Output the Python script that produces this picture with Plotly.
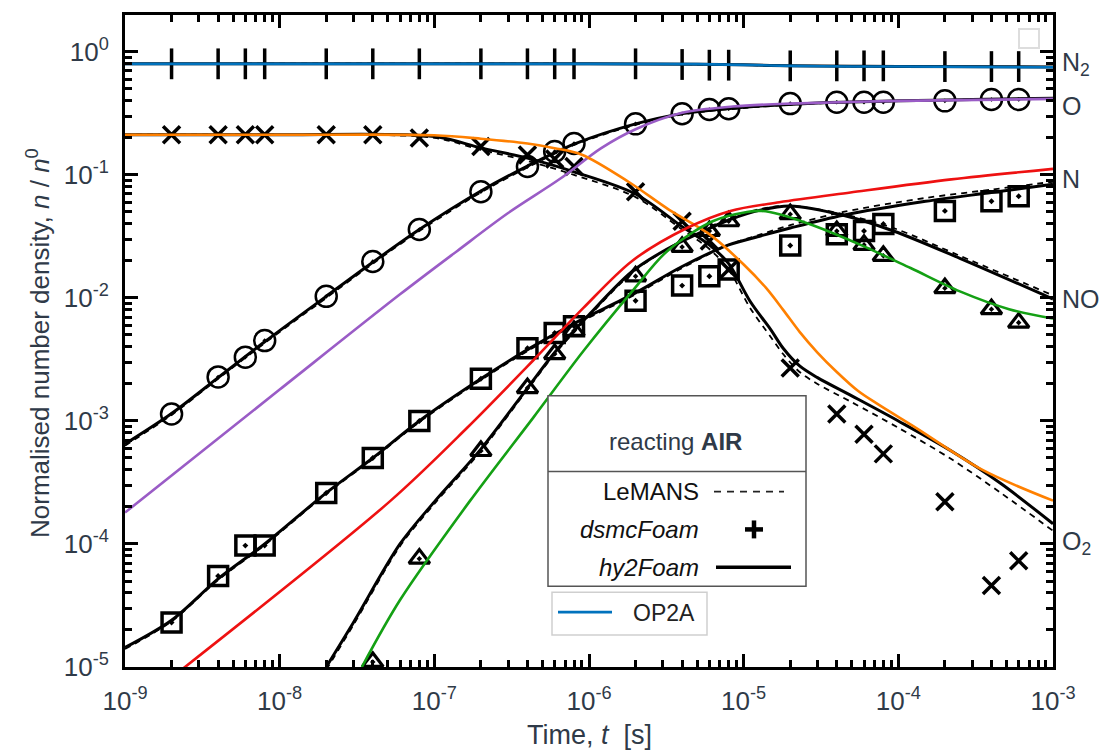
import plotly.graph_objects as go

# ---------------- data ----------------
# dsmcFoam sampling times [s]
T_dsmc = [2e-9, 4e-9, 6e-9, 8e-9, 2e-8, 4e-8, 8e-8, 2e-7, 4e-7, 6e-7, 8e-7,
          2e-6, 4e-6, 6e-6, 8e-6, 2e-5, 4e-5, 6e-5, 8e-5, 2e-4, 4e-4, 6e-4]
N2_dsmc = [0.80, 0.80, 0.80, 0.80, 0.80, 0.80, 0.80, 0.80, 0.80, 0.80, 0.80,
           0.80, 0.79, 0.78, 0.78, 0.77, 0.77, 0.77, 0.77, 0.76, 0.76, 0.76]
O_dsmc = [1.14e-3, 2.28e-3, 3.3e-3, 4.5e-3, 1.03e-2, 1.98e-2, 3.6e-2, 7.3e-2, 0.117, 0.155, 0.18,
          0.26, 0.314, 0.34, 0.345, 0.38, 0.39, 0.39, 0.39, 0.40, 0.41, 0.41]
O2_dsmc = [0.212, 0.212, 0.212, 0.212, 0.212, 0.212, 0.20, 0.17, 0.145, 0.135, 0.117,
           0.073, 0.042, 0.029, 0.017, 2.69e-3, 1.14e-3, 7.8e-4, 5.4e-4, 2.2e-4, 4.6e-5, 7.3e-5]
N_dsmc = [2.3e-5, 5.5e-5, 9.7e-5, 9.7e-5, 2.6e-4, 5.0e-4, 1.0e-3, 2.2e-3, 3.9e-3, 5.2e-3, 5.9e-3,
          9.5e-3, 0.0126, 0.015, 0.017, 0.0267, 0.033, 0.035, 0.040, 0.051, 0.061, 0.067]
NO_dsmc = [None, None, None, None, None, 1.1e-5, 7.6e-5, 5.7e-4, 1.85e-3, 3.5e-3, 5.4e-3,
           0.015, 0.026, 0.035, 0.042, 0.048, 0.035, 0.027, 0.022, 0.012, 8.1e-3, 6.3e-3]

# N2 lines
t_N2 = [1e-9, 1e-6, 5e-6, 1e-5, 2e-5, 5e-5, 1e-4, 1e-3]
N2_hy2 = [0.80, 0.80, 0.795, 0.785, 0.77, 0.765, 0.762, 0.755]
N2_lem = [0.80, 0.80, 0.793, 0.783, 0.77, 0.764, 0.76, 0.752]
N2_op2a = [0.80, 0.80, 0.795, 0.785, 0.77, 0.762, 0.76, 0.75]

# O lines
t_O = [1e-9, 2e-9, 4e-9, 8e-9, 2e-8, 4e-8, 8e-8, 2e-7, 4e-7, 8e-7, 2e-6, 4e-6, 1e-5, 3e-5, 1e-4, 3e-4, 1e-3]
O_hy2 = [6.5e-4, 1.15e-3, 2.25e-3, 4.4e-3, 1.03e-2, 1.95e-2, 3.6e-2, 7.4e-2, 0.118, 0.178, 0.26, 0.315,
         0.355, 0.385, 0.40, 0.41, 0.42]
O_lem = [6.3e-4, 1.12e-3, 2.2e-3, 4.3e-3, 1.0e-2, 1.9e-2, 3.5e-2, 7.2e-2, 0.115, 0.175, 0.255, 0.31,
         0.35, 0.382, 0.398, 0.41, 0.42]
t_O_op2a = [1e-9, 1e-8, 6e-8, 1.4e-7, 3e-7, 6.5e-7, 1.2e-6, 2e-6, 4e-6, 8.5e-6, 2e-5, 1e-4, 1e-3]
O_op2a = [1.8e-4, 1.8e-3, 1.07e-2, 0.024, 0.049, 0.093, 0.165, 0.235, 0.32, 0.36, 0.38, 0.40, 0.415]

# O2 lines
t_O2 = [1e-9, 1e-8, 1e-7, 2e-7, 4e-7, 8e-7, 2e-6, 4e-6, 6e-6, 8e-6, 1.1e-5, 1.5e-5, 1.8e-5, 2.3e-5,
        3e-5, 5e-5, 1e-4, 2.2e-4, 4.6e-4, 1e-3]
O2_hy2 = [0.212, 0.212, 0.205, 0.166, 0.137, 0.106, 0.07, 0.038, 0.027, 0.019, 9.4e-3, 5.5e-3, 3.9e-3,
          2.8e-3, 2.25e-3, 1.6e-3, 1.0e-3, 5.7e-4, 3.1e-4, 1.46e-4]
O2_lem = [0.212, 0.212, 0.20, 0.16, 0.13, 0.10, 0.066, 0.036, 0.025, 0.017, 8.3e-3, 4.8e-3, 3.5e-3,
          2.5e-3, 2.0e-3, 1.42e-3, 8.8e-4, 4.9e-4, 2.6e-4, 1.28e-4]
t_O2_op2a = [1e-9, 1e-8, 1e-7, 2e-7, 4e-7, 6e-7, 9e-7, 1.8e-6, 3.3e-6, 6e-6, 1e-5, 1.4e-5, 1.8e-5,
             2.3e-5, 3e-5, 4e-5, 5.5e-5, 7.5e-5, 1.3e-4, 3.5e-4, 1e-3]
O2_op2a = [0.212, 0.212, 0.21, 0.197, 0.18, 0.165, 0.146, 0.088, 0.052, 0.033, 0.0187, 0.012, 8.0e-3,
           5.3e-3, 3.6e-3, 2.5e-3, 1.75e-3, 1.35e-3, 8.8e-4, 4.0e-4, 2.25e-4]

# N lines
t_N = [1e-9, 2e-9, 4e-9, 8e-9, 2e-8, 4e-8, 8e-8, 2e-7, 4e-7, 8e-7, 2e-6, 4e-6, 8e-6, 1.3e-5, 2e-5,
       4.4e-5, 1.5e-4, 4e-4, 1e-3]
N_hy2 = [1.44e-5, 2.4e-5, 5.2e-5, 1.0e-4, 2.6e-4, 5.0e-4, 1.0e-3, 2.2e-3, 3.8e-3, 6.2e-3, 0.011, 0.018,
         0.027, 0.032, 0.037, 0.047, 0.061, 0.072, 0.084]
N_lem = [1.4e-5, 2.35e-5, 5.1e-5, 9.8e-5, 2.55e-4, 4.9e-4, 0.98e-3, 2.15e-3, 3.7e-3, 6.0e-3, 0.0107, 0.0175,
         0.027, 0.033, 0.039, 0.050, 0.065, 0.076, 0.088]
t_N_op2a = [2e-9, 5.2e-8, 1.63e-7, 4.35e-7, 9.2e-7, 1.9e-6, 4.3e-6, 8.2e-6, 1.7e-5, 4.9e-5, 2.2e-4, 1e-3]
N_op2a = [8.2e-6, 2.24e-4, 8.8e-4, 3.1e-3, 8.3e-3, 0.02, 0.037, 0.051, 0.06, 0.072, 0.092, 0.112]

# NO lines
t_NO = [2e-8, 3e-8, 6e-8, 1e-7, 2e-7, 4e-7, 6e-7, 1e-6, 1.9e-6, 3.2e-6, 5e-6, 8e-6, 1.3e-5, 2e-5,
        4.4e-5, 9.3e-5, 2.5e-4, 1e-3]
NO_hy2 = [1e-5, 2.3e-5, 1.0e-4, 2.2e-4, 5.9e-4, 1.85e-3, 3.6e-3, 7.3e-3, 0.0164, 0.025, 0.033, 0.043,
          0.052, 0.056, 0.047, 0.035, 0.021, 9.8e-3]
NO_lem = [9.5e-6, 2.2e-5, 0.96e-4, 2.12e-4, 5.7e-4, 1.8e-3, 3.5e-3, 7.1e-3, 0.016, 0.025, 0.034, 0.044,
          0.053, 0.056, 0.048, 0.037, 0.022, 0.0105]
t_NO_op2a = [3.4e-8, 6e-8, 1.7e-7, 4.35e-7, 9.2e-7, 1.9e-6, 3.2e-6, 6.3e-6, 1.05e-5, 1.3e-5,
             1.7e-5, 2.8e-5, 5.7e-5, 1.2e-4, 2.5e-4, 5.2e-4, 1e-3]
NO_op2a = [1e-5, 3.5e-5, 2.24e-4, 1.06e-3, 3.7e-3, 0.0113, 0.024, 0.042, 0.05, 0.051,
           0.048, 0.039, 0.027, 0.0175, 0.0113, 8.1e-3, 6.8e-3]

x_tickvals = [1e-9, 1e-8, 1e-7, 1e-6, 1e-5, 1e-4, 1e-3]
x_ticktext = ["10<sup>-9</sup>", "10<sup>-8</sup>", "10<sup>-7</sup>", "10<sup>-6</sup>",
              "10<sup>-5</sup>", "10<sup>-4</sup>", "10<sup>-3</sup>"]
y_tickvals = [1e-5, 1e-4, 1e-3, 1e-2, 1e-1, 1e0]
y_ticktext = ["10<sup>-5</sup>", "10<sup>-4</sup>", "10<sup>-3</sup>", "10<sup>-2</sup>",
              "10<sup>-1</sup>", "10<sup>0</sup>"]
species_labels = ["N<sub>2</sub>", "O", "N", "NO", "O<sub>2</sub>"]

# ---------------- styling ----------------
C_BLUE = "#0072BD"
C_ORANGE = "#FF8000"
C_PURPLE = "#9A5CC6"
C_RED = "#EE1111"
C_GREEN = "#14A014"
TXT = "#2f3a48"
FONT = "Liberation Sans"

L, R, TOP, BOT = 125, 1053, 13, 667
W, H = R - L, BOT - TOP


def fx(p):
    return (p - L) / W


def fy(p):
    return (BOT - p) / H


fig = go.Figure()

# LeMANS dashed
for t, y in [(t_N2, N2_lem), (t_O, O_lem), (t_O2, O2_lem), (t_N, N_lem), (t_NO, NO_lem)]:
    fig.add_trace(go.Scatter(x=t, y=y, mode="lines", line=dict(color="black", width=1.8, dash="6px,5px",
                                                                 shape="spline", smoothing=0.9)))
# hy2Foam solid
for t, y in [(t_N2, N2_hy2), (t_O, O_hy2), (t_O2, O2_hy2), (t_N, N_hy2), (t_NO, NO_hy2)]:
    fig.add_trace(go.Scatter(x=t, y=y, mode="lines", line=dict(color="black", width=3,
                                                                 shape="spline", smoothing=0.9)))

# dsmcFoam markers
mk = [
    (N2_dsmc, "line-ns", 22, 3.5),
    (O_dsmc, "circle-open-dot", 21, 2.5),
    (O2_dsmc, "x-thin", 17, 3.5),
    (N_dsmc, "square-open-dot", 19, 3.5),
    (NO_dsmc, "triangle-up-open-dot", 18, 3.2),
]
for y, sym, sz, lw in mk:
    fig.add_trace(go.Scatter(x=T_dsmc, y=y, mode="markers",
                             marker=dict(symbol=sym, size=sz, color="black",
                                         line=dict(color="black", width=lw))))

# OP2A coloured
for t, y, c in [(t_N2, N2_op2a, C_BLUE), (t_O_op2a, O_op2a, C_PURPLE), (t_O2_op2a, O2_op2a, C_ORANGE),
                (t_N_op2a, N_op2a, C_RED), (t_NO_op2a, NO_op2a, C_GREEN)]:
    fig.add_trace(go.Scatter(x=t, y=y, mode="lines", line=dict(color=c, width=2.6,
                                                                 shape="spline", smoothing=0.9)))

minor_x = [k * 10.0 ** e for e in range(-9, -3) for k in range(2, 10)]
minor_y = [k * 10.0 ** e for e in range(-5, 1) for k in range(2, 10)]

axis_common = dict(type="log", showline=True, linewidth=3, linecolor="black", mirror="ticks",
                   ticks="inside", ticklen=13, tickwidth=2.5, tickcolor="black", showgrid=False,
                   zeroline=False, tickfont=dict(family=FONT, size=26, color=TXT))

fig.update_xaxes(range=[-9, -3], tickvals=x_tickvals, ticktext=x_ticktext,
                 minor=dict(ticks="inside", ticklen=7, tickwidth=2.5, tickcolor="black",
                            tickmode="array", tickvals=minor_x, showgrid=False),
                 ticklabelstandoff=9, **axis_common)
fig.update_yaxes(range=[-5, 0.30], tickvals=y_tickvals, ticktext=y_ticktext,
                 minor=dict(ticks="inside", ticklen=7, tickwidth=2.5, tickcolor="black",
                            tickmode="array", tickvals=minor_y, showgrid=False),
                 ticklabelstandoff=8, **axis_common)

ann = []
# species labels on the right
for lab, ypx in zip(species_labels, [62, 104, 178, 298, 543]):
    ann.append(dict(x=fx(1060), y=fy(ypx), xref="paper", yref="paper", text=lab, showarrow=False,
                    xanchor="left", yanchor="middle", font=dict(family=FONT, size=25, color=TXT)))
# axis titles
ann.append(dict(x=fx(39), y=fy(342), xref="paper", yref="paper",
                text="Normalised number density, <i>n</i> / <i>n</i><sup>0</sup>",
                textangle=-90, showarrow=False, xanchor="center", yanchor="middle",
                font=dict(family=FONT, size=26, color=TXT)))
ann.append(dict(x=fx(589), y=fy(735), xref="paper", yref="paper", text="Time, <i>t</i>  [s]",
                showarrow=False, xanchor="center", yanchor="middle",
                font=dict(family=FONT, size=27, color=TXT)))
# legend texts
ann.append(dict(x=fx(675), y=fy(441), xref="paper", yref="paper", text="reacting <b>AIR</b>",
                showarrow=False, xanchor="center", yanchor="middle",
                font=dict(family=FONT, size=24, color=TXT)))
for txt, ypx in [("LeMANS", 491), ("<i>dsmcFoam</i>", 529), ("<i>hy2Foam</i>", 567)]:
    ann.append(dict(x=fx(701), y=fy(ypx), xref="paper", yref="paper", text=txt, showarrow=False,
                    xanchor="right", yanchor="middle", font=dict(family=FONT, size=24, color="#111")))
ann.append(dict(x=fx(631), y=fy(613), xref="paper", yref="paper", text="OP2A", showarrow=False,
                xanchor="left", yanchor="middle", font=dict(family=FONT, size=23, color="#222")))

shapes = [
    dict(type="rect", xref="paper", yref="paper", x0=fx(548), x1=fx(806), y0=fy(395), y1=fy(586),
         line=dict(color="#555", width=1.5), fillcolor="white", layer="above"),
    dict(type="line", xref="paper", yref="paper", x0=fx(548), x1=fx(806), y0=fy(471), y1=fy(471),
         line=dict(color="#555", width=1.5)),
    dict(type="line", xref="paper", yref="paper", x0=fx(714), x1=fx(784), y0=fy(491), y1=fy(491),
         line=dict(color="#222", width=1.8, dash="7px,6px")),
    dict(type="line", xref="paper", yref="paper", x0=fx(745), x1=fx(763), y0=fy(529), y1=fy(529),
         line=dict(color="black", width=4.5)),
    dict(type="line", xref="paper", yref="paper", x0=fx(754), x1=fx(754), y0=fy(520), y1=fy(538),
         line=dict(color="black", width=4.5)),
    dict(type="line", xref="paper", yref="paper", x0=fx(716), x1=fx(791), y0=fy(567), y1=fy(567),
         line=dict(color="black", width=3.5)),
    dict(type="rect", xref="paper", yref="paper", x0=fx(552), x1=fx(707), y0=fy(592), y1=fy(635),
         line=dict(color="#cfcfcf", width=1.5), fillcolor="white", layer="above"),
    dict(type="line", xref="paper", yref="paper", x0=fx(558), x1=fx(612), y0=fy(612), y1=fy(612),
         line=dict(color=C_BLUE, width=2.6)),
    dict(type="rect", xref="paper", yref="paper", x0=fx(1019), x1=fx(1039), y0=fy(27), y1=fy(46),
         line=dict(color="#dddddd", width=2), fillcolor="white", layer="above"),
]

fig.update_layout(width=1100, height=750, margin=dict(l=L, r=1100 - R, t=TOP, b=750 - BOT),
                  plot_bgcolor="white", paper_bgcolor="white", showlegend=False,
                  annotations=ann, shapes=shapes, font=dict(family=FONT))

fig.write_html("out.html")
